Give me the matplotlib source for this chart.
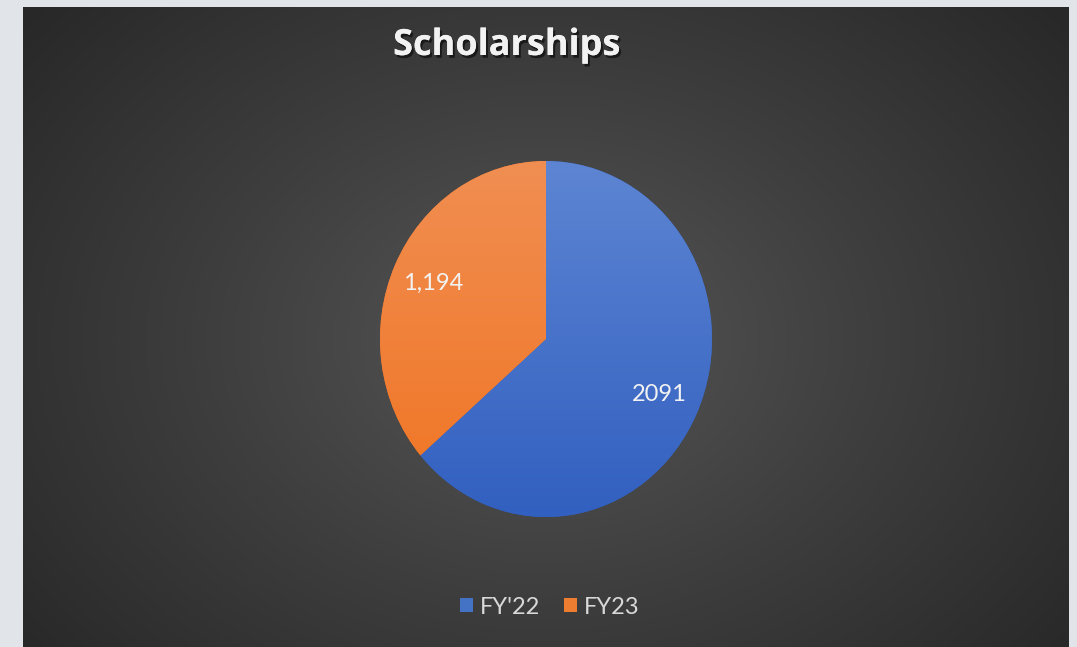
import numpy as np
import matplotlib.pyplot as plt
import matplotlib.patheffects as pe
from matplotlib.colors import LinearSegmentedColormap
from matplotlib.patches import Patch

# データ
categories = ["FY'22", "FY23"]
values = [2091, 1194]
value_labels = ["2091", "1,194"]
colors_top = ["#5d85d3", "#f08e52"]
colors_bottom = ["#3260c0", "#f07422"]
title = "Scholarships"

W, H = 1077, 647
fig = plt.figure(figsize=(W / 100, H / 100), dpi=100)
fig.patch.set_facecolor("#e1e5e9")

# 背景パネル（放射グラデーション）
px0, px1, py0, py1 = 23, 1069, 7, 647
bg = fig.add_axes([px0 / W, 0, (px1 - px0) / W, (py1 - py0) / H])
bg.set_axis_off()
yy, xx = np.mgrid[0:1:300j, 0:1:500j]
r = np.sqrt(((xx - 0.5) / 0.65) ** 2 + ((yy - 0.52) / 0.8) ** 2)
r = np.clip(r, 0, 1)
bg_cmap = LinearSegmentedColormap.from_list("bg", ["#565656", "#3e3e3e", "#282828"])
bg.imshow(r, cmap=bg_cmap, aspect="auto", extent=[0, 1, 0, 1], vmin=0, vmax=1)
bg.set_xlim(0, 1)
bg.set_ylim(0, 1)

# タイトル
fig.text(507 / W, 1 - 46 / H, title, ha="center", va="center", fontsize=26,
         fontweight="bold", family="Open Sans", color="#f2f2f2",
         path_effects=[pe.withSimplePatchShadow(offset=(1.5, -2), shadow_rgbFace="#111111", alpha=0.8),
                       pe.Normal()])

# 円グラフ
cx, cy, rx, ry = 546, 339, 166, 178
ax = fig.add_axes([(cx - rx) / W, 1 - (cy + ry) / H, 2 * rx / W, 2 * ry / H])
wedges, texts = ax.pie(values, labels=value_labels, startangle=90, counterclock=False,
                       colors=colors_bottom, labeldistance=0.75,
                       wedgeprops=dict(linewidth=0),
                       textprops=dict(color="#f2f2f2", fontsize=17, family="Lato"))
ax.set_aspect("auto")
ax.set_xlim(-1, 1)
ax.set_ylim(-1, 1)
for t in texts:
    t.set_ha("center")
    t.set_va("center")

# 扇形ごとの縦グラデーション
grad = np.linspace(1, 0, 200).reshape(-1, 1)
for w, ct, cb in zip(wedges, colors_top, colors_bottom):
    cmap = LinearSegmentedColormap.from_list("g", [cb, ct])
    im = ax.imshow(grad, cmap=cmap, extent=[-1, 1, -1, 1], aspect="auto", zorder=w.get_zorder() + 0.1)
    im.set_clip_path(w)
for t in texts:
    t.set_zorder(5)

# 凡例
handles = [Patch(facecolor=c, edgecolor="none") for c in ["#4472c4", "#ed7d31"]]
fig.legend(handles, categories, loc="center", bbox_to_anchor=(550 / W, 1 - 607 / H), ncol=2,
           frameon=False, handlelength=0.55, handleheight=0.55, handletextpad=0.3,
           columnspacing=1.0, labelcolor="#d9d9d9", prop=dict(family="Lato", size=17))

fig.savefig("out.png", dpi=100, facecolor=fig.get_facecolor())
